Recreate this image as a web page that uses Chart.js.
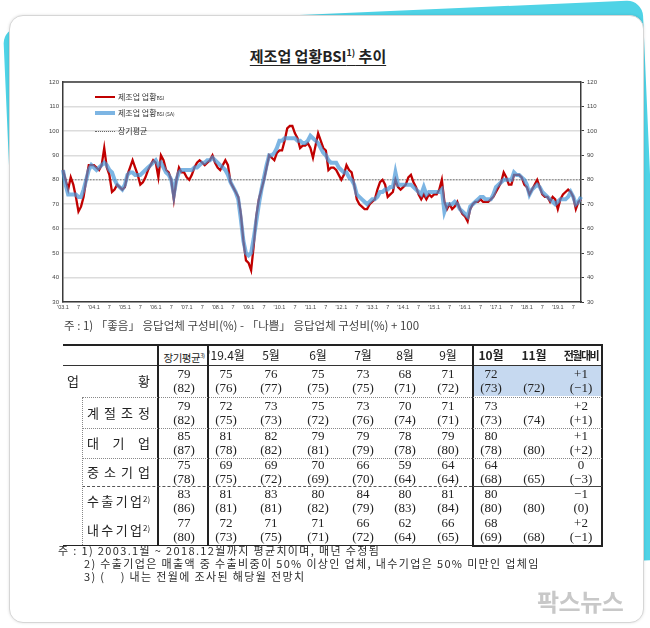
<!DOCTYPE html>
<html><head><meta charset="utf-8">
<script src="https://cdn.jsdelivr.net/npm/chart.js@4.4.0/dist/chart.umd.min.js"></script>
<style>
html,body{margin:0;padding:0;background:#fff;width:650px;height:628px;overflow:hidden;}
body{font-family:"Noto Sans CJK KR","Noto Sans",sans-serif;color:#222;}
#stage{position:relative;width:650px;height:628px;overflow:hidden;}
.cyan{position:absolute;left:3px;top:28px;width:640px;height:560px;background:#4fd3e6;border-radius:16px;transform-origin:0 0;transform:rotate(-2.5deg);}
.card{position:absolute;left:9px;top:15px;width:633px;height:606px;background:#fff;border:1px solid #d6d6d6;border-radius:14px;box-shadow:0 0 3px rgba(0,0,0,0.12);}
.title{position:absolute;left:0;width:636px;top:45px;text-align:center;font-weight:bold;font-size:15px;}
.title span{text-decoration:underline;text-underline-offset:3px;}
.title sup{font-size:9px;}
#chartBox{position:absolute;left:40px;top:70px;width:565px;height:248px;}
.lg{position:absolute;font-size:8px;line-height:10px;color:#333;white-space:nowrap;}
.lg small{font-size:5px;}
.note1{position:absolute;left:64px;top:317px;font-size:11.5px;color:#444;white-space:nowrap;}
.abs{position:absolute;}
.hl{position:absolute;background:#c6d9f0;}
.cell{position:absolute;text-align:center;font-family:"Liberation Serif","Noto Sans CJK KR",serif;font-size:13px;line-height:14px;white-space:nowrap;color:#222;}
.hdr{position:absolute;text-align:center;font-size:12px;line-height:14px;white-space:nowrap;color:#222;}
.hdr.b{font-weight:bold;}
.lab{position:absolute;display:flex;justify-content:space-between;font-size:13px;line-height:14px;color:#222;}
.notes{position:absolute;left:58px;font-size:11px;line-height:12.5px;color:#2a2a2a;white-space:nowrap;letter-spacing:1.35px;}
.wm{position:absolute;left:537px;top:583px;font-size:24px;font-weight:bold;color:#c8c8c8;letter-spacing:-0.5px;}
</style></head>
<body><div id="stage">
<div class="cyan"></div>
<div class="card"></div>
<div class="title"><span>제조업 업황BSI<sup>1)</sup> 추이</span></div>
<div id="chartBox"><canvas id="c" width="565" height="248"></canvas></div>
<div class="abs" style="left:95px;top:95.5px;width:20px;height:2.5px;background:#c00000"></div>
<div class="lg" style="left:118px;top:92px">제조업 업황<small>BSI</small></div>
<div class="abs" style="left:95px;top:111px;width:20px;height:4px;background:rgba(70,150,215,0.7)"></div>
<div class="lg" style="left:118px;top:108px">제조업 업황<small>BSI (SA)</small></div>
<div class="abs" style="left:95px;top:131px;width:20px;border-top:1px dotted #666"></div>
<div class="lg" style="left:118px;top:126px">장기평균</div>
<div class="note1">주 : 1) 「좋음」 응답업체 구성비(%) - 「나쁨」 응답업체 구성비(%) + 100</div>
<div id="tbl"></div>
<div class="notes" style="top:544px">주 : 1) 2003.1월 ~ 2018.12월까지 평균치이며, 매년 수정됨</div>
<div class="notes" style="top:557px;left:84px">2) 수출기업은 매출액 중 수출비중이 50% 이상인 업체, 내수기업은 50% 미만인 업체임</div>
<div class="notes" style="top:570px;left:84px">3) (&nbsp;&nbsp;&nbsp;&nbsp;) 내는 전월에 조사된 해당월 전망치</div>
<div class="wm">팍스뉴스</div>
</div>
<script>
// ---- chart data ----
const years = ['03','04','05','06','07','08','09','10','11','12','13','14','15','16','17','18','19'];
const lastMonth = 10;
const bsi = [
84,80,76,81,78,73,67,69,73,80,86,86,
86,85,84,86,93,85,82,75,76,78,77,76,
77,82,85,88,85,82,78,79,81,84,86,88,
87,81,90,88,84,83,80,72,80,85,83,83,
81,80,82,85,87,88,87,86,87,88,90,87,
85,84,86,88,86,79,77,75,73,66,55,47,
46,43,53,65,72,76,80,85,90,89,88,91,
92,92,96,101,102,102,99,97,93,94,94,95,
93,89,94,99,96,93,92,84,85,85,84,82,
80,82,86,84,83,78,72,70,69,68,68,70,
71,72,76,79,80,78,73,74,75,80,77,76,
77,78,81,82,79,77,74,72,74,72,74,73,
74,74,76,80,71,68,70,68,69,71,68,66,
65,63,68,70,71,71,72,71,71,71,72,73,
75,77,79,83,81,78,78,82,82,82,81,78,
77,74,76,78,80,77,74,73,73,71,73,72,
68,72,74,75,76,75,73,68,71,72];
const bsiSA = [
84,78,74,74,74,74,73,73,76,80,84,86,
85,84,85,86,87,86,84,83,80,78,77,76,
78,82,83,83,82,82,82,83,84,85,86,87,
88,86,87,85,83,82,80,74,80,83,84,84,
84,84,84,85,85,86,87,87,88,88,89,88,
87,86,85,84,82,79,77,75,72,64,55,50,
49,50,56,63,70,76,81,86,90,90,91,93,
96,96,97,97,97,97,97,96,96,95,95,96,
98,97,96,95,93,91,90,88,87,87,87,85,
84,83,83,81,80,78,74,73,72,71,70,71,
72,72,73,75,75,76,76,77,77,83,78,78,
78,78,78,78,77,76,75,74,77,74,75,75,
75,75,75,76,67,70,70,70,71,70,68,67,
66,65,69,70,71,72,73,73,72,72,72,74,
77,78,79,80,80,80,80,83,82,82,81,80,
78,74,76,77,78,77,75,74,73,72,71,70,
71,72,72,72,73,75,73,70,71,73];
const longAvg = 80;
const yTicks = [30,40,50,60,70,80,90,100,110,120];

const labels = [];
years.forEach((y,yi)=>{
  const n = (yi===years.length-1)?lastMonth:12;
  for(let m=1;m<=n;m++) labels.push({y:y,m:m});
});
const tickText = labels.map(l => l.m===1 ? "'"+l.y+".1" : (l.m===7 ? "7" : ""));

// ---- table data ----
const tblHeaders = ["장기평균","'19.4월","5월","6월","7월","8월","9월","10월","11월","전월대비"];
const rowNames = [["업","황"],["계","절","조","정"],["대","기","업"],["중","소","기","업"],["수","출","기","업"],["내","수","기","업"]];
const rowSup = ["","","","","2)","2)"];
const rowVals = [
 ["79","75","76","75","73","68","71","72","","+1"],
 ["79","72","73","75","73","70","71","73","","+2"],
 ["85","81","82","79","79","78","79","80","","+1"],
 ["75","69","69","70","66","59","64","64","","0"],
 ["83","81","83","80","84","80","81","80","","−1"],
 ["77","72","71","71","66","62","66","68","","+2"]];
const rowFc = [
 ["(82)","(76)","(77)","(75)","(75)","(71)","(72)","(73)","(72)","(−1)"],
 ["(82)","(75)","(73)","(72)","(76)","(74)","(71)","(73)","(74)","(+1)"],
 ["(87)","(78)","(82)","(81)","(79)","(78)","(80)","(78)","(80)","(+2)"],
 ["(78)","(75)","(72)","(69)","(70)","(64)","(64)","(68)","(65)","(−3)"],
 ["(86)","(81)","(81)","(82)","(79)","(83)","(84)","(80)","(80)","(0)"],
 ["(80)","(73)","(75)","(71)","(72)","(64)","(65)","(69)","(68)","(−1)"]];

// ---- chart ----
const frame = {
  id:'frame',
  afterDraw(chart){
    const a = chart.chartArea, ctx = chart.ctx;
    ctx.save(); ctx.strokeStyle='#3a3a3a'; ctx.lineWidth=1.5;
    ctx.beginPath(); ctx.moveTo(a.left,a.top); ctx.lineTo(a.right,a.top); ctx.stroke();
    ctx.restore();
  }
};
const tickFont = {family:'"Liberation Sans", sans-serif', size:6};
new Chart(document.getElementById('c'), {
  type:'line',
  data:{
    labels: labels.map(l=>l.y+'.'+l.m),
    datasets:[
      {label:'제조업 업황BSI', data:bsi, borderColor:'#c00000', borderWidth:2.3, pointRadius:0, tension:0, order:2},
      {label:'제조업 업황BSI (SA)', data:bsiSA, borderColor:'rgba(70,150,215,0.7)', borderWidth:4, pointRadius:0, tension:0, order:1},
      {label:'장기평균', data:labels.map(()=>longAvg), borderColor:'#777', borderWidth:1, borderDash:[1.5,1.5], pointRadius:0, order:3}
    ]
  },
  options:{
    responsive:false, animation:false, devicePixelRatio:1,
    layout:{padding:{top:12,left:0,right:0,bottom:0}},
    plugins:{legend:{display:false}, tooltip:{enabled:false}},
    scales:{
      x:{ticks:{autoSkip:false,maxRotation:0,minRotation:0,font:{...tickFont,size:5.5},color:'#444',padding:2,
           callback:(v,i)=>tickText[i]},
         grid:{drawOnChartArea:false,drawTicks:false},
         border:{display:true,color:'#3a3a3a',width:1.5},
         afterFit(s){s.height=16;}},
      y:{min:30,max:120,afterBuildTicks(s){s.ticks=yTicks.map(v=>({value:v}));},
         ticks:{font:tickFont,color:'#444',padding:4},
         grid:{color:'#dcdcdc',lineWidth:1.5,drawTicks:false},
         border:{display:true,color:'#3a3a3a',width:1.5},
         afterFit(s){s.width=23;}},
      y2:{position:'right',min:30,max:120,afterBuildTicks(s){s.ticks=yTicks.map(v=>({value:v}));},
         ticks:{font:tickFont,color:'#444',padding:3},
         grid:{drawOnChartArea:false,drawTicks:true,tickLength:3,color:'#3a3a3a'},
         border:{display:true,color:'#3a3a3a',width:1.5},
         afterFit(s){s.width=24;}}
    }
  },
  plugins:[frame]
});

// ---- table ----
const T = document.getElementById('tbl');
function add(cls, style, html){const d=document.createElement('div');d.className=cls;d.style.cssText=style;d.innerHTML=html;T.appendChild(d);return d;}
const colC = [184,226,271,318,363,405,448,491,534,581];
const colW = 46;
const rowTop = [365,397,428,458,486,515];
const rowBot = 545;
add('hl','left:473px;top:366px;width:129px;height:30px;','');
tblHeaders.forEach((h,i)=>{
  const bold = i>=7;
  let txt = h;
  if(i===0) txt = '<span style="font-size:10.5px;letter-spacing:-0.5px">장기평균<sup style="font-size:6px">3)</sup></span>';
  if(i===9) txt = '<span style="font-size:11px;letter-spacing:-1.5px">전월대비</span>';
  add('hdr'+(bold?' b':''), `left:${colC[i]-25}px;top:348px;width:50px;`, txt);
});
rowTop.forEach((t,r)=>{
  const h = (r<rowTop.length-1?rowTop[r+1]:rowBot)-t;
  const c1 = t + h/2 - 14;
  rowVals[r].forEach((v,i)=>{
    add('cell',`left:${colC[i]-colW/2}px;top:${c1}px;width:${colW}px;`, v||'&nbsp;');
    add('cell',`left:${colC[i]-colW/2}px;top:${c1+14}px;width:${colW}px;`, rowFc[r][i]);
  });
  const chars = rowNames[r];
  let left = 87, width = 63;
  if(r===0){left=67; width=83;}
  if(rowSup[r]) width = 55;
  add('lab',`left:${left}px;top:${t+h/2-7}px;width:${width}px;`, chars.map(c=>'<span>'+c+'</span>').join(''));
  if(rowSup[r]) add('lab',`left:${left+width+1}px;top:${t+h/2-9}px;font-size:8px;`, rowSup[r]);
});
function line(x,y,w,h,css){add('abs',`left:${x}px;top:${y}px;width:${w}px;height:${h}px;${css}`,'');}
line(63,343.5,539,2,'background:#222');
line(63,364.5,539,1,'background:#333');
line(63,544.5,539,1.5,'background:#222');
line(157,343.5,2,202,'background:#222');
line(207,343.5,2,202,'background:#222');
line(471.5,343.5,2,203,'background:#222');
line(601,343.5,2,203,'background:#222');
line(471.5,544.5,131,2,'background:#222');
[397,428,458].forEach(y=>line(82,y,520,0,'border-top:1px dotted #888'));
line(82,486,390,0,'border-top:1px dashed #555');
line(473,486,129,0,'border-top:1px solid #444');
line(82,397,0,148,'border-left:1px dotted #888');
</script>
</body></html>
